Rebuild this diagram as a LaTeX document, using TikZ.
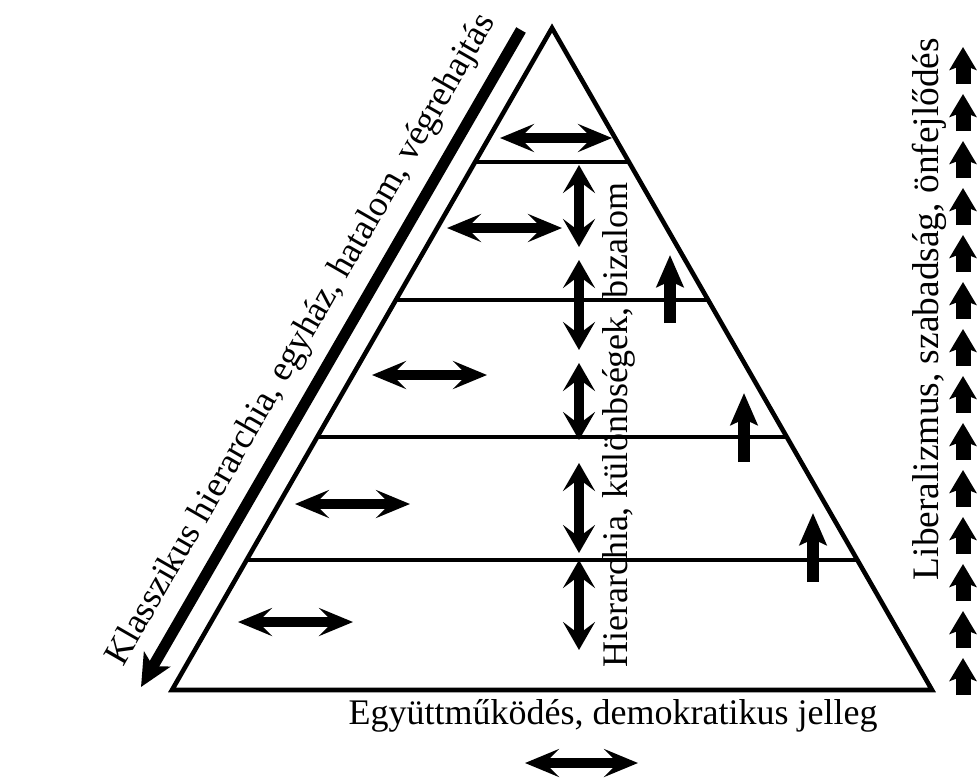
\documentclass[tikz,border=0pt]{standalone}
\usepackage{fontspec}
\setmainfont{Liberation Serif}
\usetikzlibrary{arrows.meta,calc}

\tikzset{
  pyr/.style={line width=2.3pt,line join=miter},
  dblarr/.style={{Stealth[length=17pt,width=14pt,inset=7pt]}-{Stealth[length=17pt,width=14pt,inset=7pt]},line width=5pt},
  vdblarr/.style={{Stealth[length=14pt,width=16pt,inset=6pt]}-{Stealth[length=14pt,width=16pt,inset=6pt]},line width=5pt},
  uparr/.style={-{Stealth[length=16pt,width=13.5pt,inset=3pt]},line width=6.3pt},
  colarr/.style={-{Stealth[length=11.5pt,width=13.5pt,inset=2.5pt]},line width=7.5pt},
  lbl/.style={font=\fontsize{18}{22}\selectfont,inner sep=0pt}
}

\begin{document}
\begin{tikzpicture}[x=0.5pt,y=-0.5pt]
\useasboundingbox (0,0) rectangle (978,777);
% pyramid
\coordinate (apex) at (552,28);
\coordinate (bl) at (172,690);
\coordinate (br) at (932,690);
\draw[pyr] (apex) -- (bl) -- (br) -- cycle;
\foreach \t in {0.2024,0.4109,0.6178,0.8036}
  \draw[pyr] ($(apex)!\t!(bl)$) -- ($(apex)!\t!(br)$);
% horizontal double arrows
\foreach \xa/\xb/\y in {500/612/138,447/562/228,372/487/375,295/410/504,238/353/622,525/638/763}
  \draw[dblarr] (\xa,\y) -- (\xb,\y);
% vertical double arrows
\foreach \ya/\yb in {165/247,260/350,363/440,463/553,560/650}
  \draw[vdblarr] (579,\ya) -- (579,\yb);
% up arrows in the levels
\draw[uparr] (670,323) -- (670,255);
\draw[uparr] (744,462) -- (744,393);
\draw[uparr] (813,582) -- (813,513);
% column of up arrows
\foreach \i in {0,...,13}
  \draw[colarr] (963,{84+47*\i}) -- (963,{47+47*\i});
% left diagonal arrow
\coordinate (ktop) at (521,30);
\coordinate (kbot) at (141,687);
\draw[-{Stealth[length=16pt,width=15pt,inset=4pt]},line width=5.5pt] (ktop) -- (kbot);
% labels
\node[lbl,rotate=60.1] (klassz) at (302,340) {Klasszikus hierarchia, egyház, hatalom, végrehajtás};
\node[lbl,rotate=90,anchor=base] (hier) at (627,425) {Hierarchia, különbségek, bizalom};
\node[lbl,rotate=90,anchor=base,font=\fontsize{18.7}{22}\selectfont] (liber) at (938,309) {Liberalizmus, szabadság, önfejlődés};
\node[lbl,anchor=base] (egyutt) at (613,724) {Együttműködés, demokratikus jelleg};
\end{tikzpicture}
\end{document}
